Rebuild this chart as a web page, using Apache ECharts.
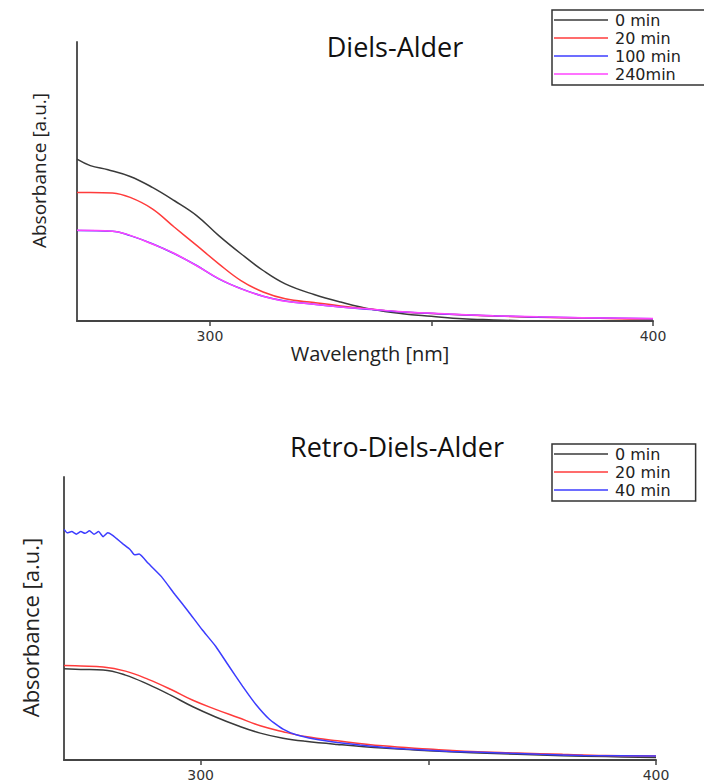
<!DOCTYPE html>
<html>
<head>
<meta charset="utf-8">
<script src="https://cdn.jsdelivr.net/npm/echarts@6/dist/echarts.min.js"></script>
<style>
  html, body { margin: 0; padding: 0; background: #fff; }
  #chart { width: 704px; height: 782px; }
</style>
</head>
<body>
<div id="chart"></div>
<script>
// ---- Data (wavelength in nm, absorbance in arbitrary units, % of axis height) ----
const xTicks = [300, 350, 400];
const xTickLabels = [300, 400];

// Diels-Alder
const daNames = ['0 min', '20 min', '100 min', '240min'];
const daX0 = [270, 273, 277, 282, 287, 292, 297, 302, 307, 312, 317, 323.5, 329.5, 336.5, 343.5, 350, 357, 364, 370];
const daY0 = [58.0, 55.7, 54.2, 51.8, 47.9, 43.1, 37.8, 30.6, 24.1, 18.1, 13.3, 9.5, 6.8, 4.2, 2.6, 1.7, 0.8, 0.4, 0.1];
const daX20 = [270, 273, 278, 282, 287, 292, 297, 302, 307, 312, 317, 323.5, 329.5, 336.5, 343.5, 354, 364, 374, 384, 392, 400];
const daY20 = [46.1, 46.1, 45.9, 44.3, 40.2, 33.6, 27.1, 20.5, 14.5, 10.4, 8.0, 6.6, 5.4, 4.2, 3.2, 2.4, 1.8, 1.3, 1.1, 0.8, 0.7];
const daX100 = [270, 278, 282, 287, 292, 297, 302, 307, 312, 317, 323.5, 329.5, 336.5, 343.5, 354, 364, 374, 384, 400];
const daY100 = [32.4, 32.2, 30.6, 27.7, 24.1, 19.9, 15.1, 11.6, 8.9, 7.2, 6.0, 5.0, 4.1, 3.2, 2.4, 1.9, 1.4, 1.2, 0.8];
const daY240 = [32.5, 32.2, 30.7, 27.6, 24.2, 19.8, 15.2, 11.5, 8.9, 7.1, 6.0, 5.0, 4.2, 3.3, 2.5, 1.9, 1.5, 1.2, 0.9];

// Retro-Diels-Alder
const rdaNames = ['0 min', '20 min', '40 min'];
const rdaX = [270, 273.7, 278.6, 283.5, 288.5, 293.4, 298.3, 303.3, 308.2, 313.1, 318.1, 323, 330, 340, 350, 359.5, 369.5, 379.5, 389, 400];
const rdaY0 = [32.2, 32.0, 31.8, 30.0, 26.7, 22.9, 18.8, 15.2, 12.1, 9.5, 7.7, 6.6, 5.5, 4.2, 3.3, 2.6, 2.0, 1.5, 1.2, 0.9];
const rdaY20 = [33.4, 33.2, 32.9, 31.4, 28.5, 25.0, 21.1, 17.9, 15.0, 12.1, 10.0, 8.3, 6.8, 5.0, 3.9, 3.0, 2.5, 2.0, 1.6, 1.4];
const rdaX40 = [270, 270.7, 271.7, 272.7, 273.7, 274.6, 275.6, 276.6, 277.6, 278.6, 279.6, 280.6, 281.5, 283, 284.5, 285.5, 286.5, 288.5, 291.4, 294.4, 297.3, 300.3, 303.3, 306.2, 309.2, 312.1, 315.1, 318.1, 321, 325, 330, 335, 340, 345, 355, 364.5, 374.5, 384, 400];
const rdaY40 = [81.5, 80.3, 80.7, 79.8, 80.7, 80.1, 81.0, 79.8, 80.7, 78.9, 80.3, 79.5, 78.3, 76.3, 74.4, 72.5, 72.8, 69.5, 64.8, 58.4, 52.5, 46.1, 40.2, 33.2, 26.1, 19.7, 14.4, 10.9, 8.9, 7.4, 6.2, 5.3, 4.5, 3.9, 3.0, 2.6, 2.0, 1.6, 1.4];

// ---- Helpers ----
const pairs = (xs, ys) => xs.map((x, i) => [x, ys[i]]);
const C = { k: '#3a3a3a', r: '#ff3b3b', b: '#3c3cff', m: '#ff45ff' };

function xAxisFor(gi, withName) {
  return {
    type: 'value', gridIndex: gi, min: 270, max: 400,
    axisLine: { show: true, onZero: false, lineStyle: { color: '#444', width: 2 } },
    axisTick: { show: true, customValues: xTicks, length: 5, lineStyle: { color: '#444', width: 1.5 } },
    axisLabel: { customValues: xTickLabels, margin: 8, color: '#333',
      fontFamily: 'DejaVu Sans', fontSize: 14 },
    splitLine: { show: false },
    name: withName ? 'Wavelength [nm]' : '',
    nameLocation: 'middle', nameGap: 22,
    nameTextStyle: { fontFamily: 'Open Sans', fontSize: 20, color: '#222', padding: [0, 0, 0, 10] }
  };
}
function yAxisFor(gi, size, gap, pad) {
  return {
    type: 'value', gridIndex: gi, min: 0, max: 100,
    axisLine: { show: true, lineStyle: { color: '#555', width: 2 } },
    axisTick: { show: false }, axisLabel: { show: false }, splitLine: { show: false },
    name: 'Absorbance [a.u.]', nameLocation: 'middle', nameRotate: 90, nameGap: gap,
    nameTextStyle: { fontFamily: 'Open Sans', fontSize: size, color: '#222', padding: pad }
  };
}
function lineSeries(name, xi, data, color, smooth) {
  return {
    type: 'line', name: name, xAxisIndex: xi, yAxisIndex: xi, data: data,
    showSymbol: false, smooth: smooth, silent: true, animation: false,
    lineStyle: { color: color, width: 1.5 }, itemStyle: { color: color }
  };
}
function legendFor(names, top, pad) {
  return {
    data: names, orient: 'vertical', left: 552, top: top,
    icon: 'rect', itemWidth: 54, itemHeight: 1.5, itemGap: 2,
    padding: pad, borderColor: '#333', borderWidth: 1.5, selectedMode: false,
    textStyle: { fontFamily: 'DejaVu Sans', fontSize: 16, color: '#222',
      lineHeight: 16, padding: [0, 0, 0, 2] }
  };
}

const chart = echarts.init(document.getElementById('chart'), null, { renderer: 'svg' });
chart.setOption({
  backgroundColor: '#fff',
  animation: false,
  grid: [
    { left: 77, top: 42, width: 576, height: 279 },
    { left: 64, top: 477, width: 592, height: 284 }
  ],
  xAxis: [xAxisFor(0, true), xAxisFor(1, false)],
  yAxis: [yAxisFor(0, 19, 29, [0, 0, 0, 22]), yAxisFor(1, 22, 23, [0, 18, 0, 0])],
  legend: [
    legendFor(daNames, 10, [2, 30, 3, 2]),
    legendFor(rdaNames, 444, [2, 25, 3, 2])
  ],
  graphic: [
    { type: 'text', x: 395, y: 46, style: { text: 'Diels-Alder', font: '27px "Open Sans"', fill: '#111', textAlign: 'center', textVerticalAlign: 'middle' } },
    { type: 'text', x: 397, y: 446, style: { text: 'Retro-Diels-Alder', font: '27px "Open Sans"', fill: '#111', textAlign: 'center', textVerticalAlign: 'middle' } }
  ],
  series: [
    lineSeries('0 min', 0, pairs(daX0, daY0), C.k, 0.4),
    lineSeries('20 min', 0, pairs(daX20, daY20), C.r, 0.4),
    lineSeries('100 min', 0, pairs(daX100, daY100), C.b, 0.4),
    lineSeries('240min', 0, pairs(daX100, daY240), C.m, 0.4),
    lineSeries('0 min', 1, pairs(rdaX, rdaY0), C.k, 0.4),
    lineSeries('20 min', 1, pairs(rdaX, rdaY20), C.r, 0.4),
    lineSeries('40 min', 1, pairs(rdaX40, rdaY40), C.b, 0.15)
  ]
});
</script>
</body>
</html>
